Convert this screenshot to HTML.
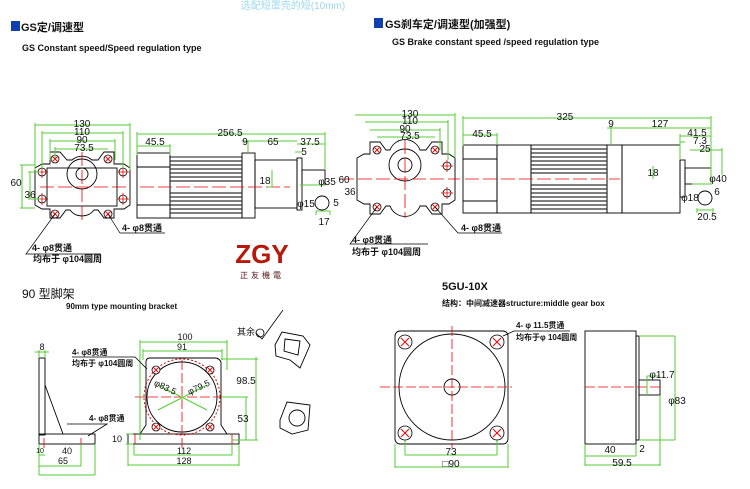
<!DOCTYPE html>
<html><head><meta charset="utf-8"><style>
html,body{margin:0;padding:0;background:#fff;width:750px;height:489px;overflow:hidden}
svg text{font-family:"Liberation Sans","Noto Sans CJK SC",sans-serif}
</style></head><body>
<svg width="750" height="489" viewBox="0 0 750 489" xmlns="http://www.w3.org/2000/svg">
<defs>
<g id="xh"><circle r="4" fill="#fff" stroke="#000" stroke-width="0.8"/><path d="M-3,-3L3,3M-3,3L3,-3" stroke="#e00" stroke-width="0.9"/></g>
<g id="ch"><circle r="4" fill="#fff" stroke="#000" stroke-width="0.8"/><path d="M-6,0H6M0,-6V6" stroke="#e00" stroke-width="0.8"/></g>
</defs>
<!-- header -->
<text x="293" y="9" font-size="10" fill="#9cd8ea" text-anchor="middle">选配短罩壳的短(10mm)</text>
<rect x="11" y="21" width="9" height="10" fill="#1040b0"/>
<text x="21" y="31" font-size="11" font-weight="bold" fill="#111">GS定/调速型</text>
<text x="22" y="51" font-size="9" font-weight="bold" fill="#111">GS Constant speed/Speed regulation type</text>
<rect x="374" y="18" width="9" height="10" fill="#1040b0"/>
<text x="385" y="28" font-size="11" font-weight="bold" fill="#111">GS刹车定/调速型(加强型)</text>
<text x="392" y="45" font-size="9" font-weight="bold" fill="#111">GS Brake constant speed /speed regulation type</text>

<g fill="none" stroke="#000" stroke-width="0.9">
<path d="M35,168 L42,164 L50,164 L50,152 L60,152 L67,160 H72 A15,15 0 0 1 92,160 H98 L104,152 L114,152 L114,164 L124,164 L130,168 V205 L124,209 H114 V218 H104 L98,210 H94 A15,15 0 0 1 70,210 H66 L60,218 H50 V209 H42 L35,205Z"/>
<rect x="47" y="168" width="70" height="38"/>
<circle cx="82" cy="174" r="15"/><circle cx="82" cy="174" r="6"/>
<rect x="137" y="153" width="33" height="65"/>
<line x1="137" y1="167" x2="170" y2="167"/><line x1="137" y1="205" x2="170" y2="205"/>
<rect x="170" y="157" width="72" height="61"/>
<rect x="242" y="153" width="13" height="65"/>
<rect x="255" y="160" width="42" height="48"/>
<rect x="297" y="158" width="5" height="52"/>
<rect x="302" y="170" width="23" height="15"/>
<circle cx="322" cy="203" r="7"/>
<path d="M357,158 L364,154 L370,154 V142 H380 L386,150 H390 A16,16 0 0 1 420,150 H426 L432,142 H442 V154 H449 L455,158 V200 L449,204 H442 V214 H432 L426,206 H420 A16,16 0 0 1 390,206 H386 L380,214 H370 V204 H364 L357,200Z"/>
<circle cx="405" cy="165" r="16"/><circle cx="405" cy="165" r="7"/>
<rect x="463" y="145" width="34" height="68"/>
<line x1="463" y1="159" x2="497" y2="159"/><line x1="463" y1="201" x2="497" y2="201"/>
<rect x="497" y="145" width="34" height="68"/>
<rect x="531" y="145" width="76" height="68"/>
<rect x="607" y="145" width="15" height="68"/>
<rect x="622" y="145" width="58" height="68"/>
<rect x="680" y="160" width="5" height="37"/>
<rect x="685" y="168" width="26" height="16"/>
<circle cx="705" cy="198" r="7"/>
</g>
<!-- fins -->
<g stroke="#333" stroke-width="1.2">
<path d="M170,161H242M170,165H242M170,169H242M170,173H242M170,177H242M170,181H242M170,193H242M170,197H242M170,201H242M170,205H242M170,209H242M170,213H242"/>
<path d="M531,149H607M531,153H607M531,157H607M531,161H607M531,165H607M531,169H607M531,173H607M531,185H607M531,189H607M531,193H607M531,197H607M531,201H607M531,205H607M531,209H607"/>
</g>
<g stroke="#e00" stroke-width="0.8" fill="none" stroke-dasharray="14,4">
<path d="M40,187H128M82,152V222M140,187H290M340,179H460M405,140V218M465,179H620"/>
</g>
<g>
<use href="#ch" x="42" y="172"/><use href="#ch" x="42" y="199"/><use href="#ch" x="123" y="172"/><use href="#ch" x="123" y="199"/>
<use href="#xh" x="55" y="159"/><use href="#xh" x="108" y="159"/><use href="#xh" x="55" y="214"/><use href="#xh" x="108" y="214"/>
<use href="#ch" x="447" y="166"/><use href="#ch" x="447" y="193"/>
<use href="#xh" x="377" y="150"/><use href="#xh" x="435" y="150"/><use href="#xh" x="377" y="207"/><use href="#xh" x="435" y="207"/>
</g>
<g stroke="#5c3" stroke-width="1" fill="none">
<path d="M35,125H130M35,123V170M130,123V170M42,133H123M42,131V168M123,131V168M50,141H115M50,139V160M115,139V160M55,149H108M55,147V158"/>
<path d="M22,165V208M20,165H35M20,208H35M30,172V199M28,172H40M28,199H40"/>
<path d="M137,134H325M137,132V155M325,132V170M137,146H170M170,144V155M242,141H297M248,141V153M297,144H325M295,152H302M272,170V187M268,187H272M300,185H325"/>
<path d="M316,211H330M316,211V215M330,211V215"/>
<path d="M355,115H455M455,113V158M365,122H448M448,120V160M370,130H440M440,128V150M377,137H435"/>
<path d="M463,118H711M463,116V146M711,116V184M463,135H497M497,133V145M607,128H711M611,126V145M680,136H711M680,134V160M680,142H685M690,150H722M722,148V175M653,166V179M692,184H711"/>
<path d="M697,210H713M697,208V213M713,208V213"/>
</g>
<g font-size="10" fill="#111" text-anchor="middle">
<text x="82" y="127">130</text><text x="82" y="135">110</text><text x="82" y="143">90</text><text x="84" y="151">73.5</text>
<text x="16" y="186">60</text><text x="30" y="198">36</text>
<text x="230" y="136">256.5</text><text x="155" y="145">45.5</text><text x="245" y="145">9</text><text x="273" y="145">65</text><text x="310" y="145">37.5</text><text x="304" y="155">5</text>
<text x="265" y="184">18</text><text x="327" y="185">φ35</text><text x="306" y="207">φ15</text><text x="336" y="206">5</text><text x="324" y="225">17</text>
<text x="410" y="117">130</text><text x="410" y="124">110</text><text x="405" y="132">90</text><text x="410" y="139">73.5</text>
<text x="344" y="183">60</text><text x="350" y="195">36</text>
<text x="565" y="120">325</text><text x="482" y="137">45.5</text><text x="611" y="127">9</text><text x="660" y="127">127</text><text x="697" y="136">41.5</text><text x="700" y="144">7.3</text><text x="705" y="152">25</text>
<text x="653" y="176">18</text><text x="718" y="182">φ40</text><text x="690" y="201">φ18</text><text x="717" y="195">6</text><text x="707" y="220">20.5</text>
</g>
<g stroke="#000" stroke-width="0.7" fill="none">
<path d="M108,214L120,233H165M55,214L26,254H101"/>
<path d="M435,207L458,233H502M377,207L350,244H428"/>
</g>
<g font-size="9" fill="#111" font-weight="bold">
<text x="122" y="231">4- φ8贯通</text><text x="32" y="251">4- φ8贯通</text><text x="33" y="262">均布于 φ104圆周</text>
<text x="461" y="231">4- φ8贯通</text><text x="352" y="243">4- φ8贯通</text><text x="352" y="255">均布于 φ104圆周</text>
</g>
<text x="262" y="263" font-size="26" font-weight="bold" fill="#b8180c" text-anchor="middle">ZGY</text>
<text x="262" y="278" font-size="8" fill="#511" text-anchor="middle" letter-spacing="3">正友機電</text>

<text x="22" y="298" font-size="12" fill="#111">90 型脚架</text>
<text x="66" y="309" font-size="8" font-weight="bold" fill="#111">90mm type mounting bracket</text>
<text x="237" y="335" font-size="9" fill="#111">其余</text>
<path d="M256,333 L262,339 L283,310" stroke="#000" fill="none" stroke-width="0.8"/><circle cx="260" cy="333" r="4" fill="none" stroke="#000" stroke-width="0.8"/>
<g fill="none" stroke="#000" stroke-width="0.9">
<rect x="39" y="358" width="6" height="77"/><path d="M45,385L63,434"/>
<rect x="39" y="434" width="56" height="10"/>
<path d="M140,434L146,425V362Q146,358 150,358H215Q219,358 221,362V425L227,434"/>
<rect x="128" y="434" width="111" height="10"/>
<circle cx="182" cy="397" r="35"/>
<path d="M275,345L282,332L303,336L310,345L300,368L290,360L276,356Z"/><path d="M285,339L300,341L298,355L284,351Z"/>
<path d="M280,420L287,402L310,405L308,430L292,434L280,428Z"/><circle cx="297" cy="418" r="8"/>
<rect x="585" y="331" width="51" height="113"/><rect x="636" y="336" width="3" height="104"/>
<rect x="639" y="380" width="21" height="15"/>
<rect x="395" y="331" width="113" height="113" rx="5"/>
<circle cx="452" cy="387" r="53"/><circle cx="452" cy="387" r="8"/>
</g>
<circle cx="182" cy="397" r="38" fill="none" stroke="#e00" stroke-dasharray="2,2"/>
<g stroke="#e00" stroke-width="0.8" stroke-dasharray="10,3" fill="none">
<path d="M135,397H232M182,360V448M44,438V448M81,438V448M135,434V444M232,434V444M380,387H512M452,326V448M585,387H660"/>
</g>
<g stroke="#5c3" stroke-width="1" fill="none">
<path d="M158,385L207,410M158,410L207,385"/>
<path d="M35,352H49M39,350V358M45,350V358M39,444V475M81,444V466M95,444V475M39,455H45M39,466H81M39,475H95"/>
<path d="M140,342H227M140,340V440M227,340V370M143,351H222M143,349V360M222,349V360M221,359H258M256,357V440M221,397H248M246,397V440M232,440H258"/>
<path d="M126,434H133M126,444H133M134,444V455M232,444V455M134,455H232M128,444V466M239,444V466M128,465H239"/>
<path d="M405,440V455M497,440V455M405,455H497M395,444V468M508,444V468M395,467H508"/>
<path d="M639,336H675M639,440H675M675,336V440M647,376V395M647,376H660M585,444V466M636,444V456M660,395V466M585,456H636M585,465H660"/>
</g>
<g>
<use href="#xh" x="156" y="370"/><use href="#xh" x="210" y="370"/><use href="#xh" x="156" y="427"/><use href="#xh" x="210" y="427"/>
</g>
<g fill="#fff" stroke="#000" stroke-width="0.8">
<circle cx="405" cy="342" r="7"/><circle cx="497" cy="342" r="7"/><circle cx="405" cy="433" r="7"/><circle cx="497" cy="433" r="7"/>
</g>
<g stroke="#e00" stroke-width="1"><path d="M401,338L409,346M401,346L409,338M493,338L501,346M493,346L501,338M401,429L409,437M401,437L409,429M493,429L501,437M493,437L501,429"/></g>
<g stroke="#000" stroke-width="0.8" fill="none"><path d="M72,357H135L147,369"/><path d="M503,336L514,331H570"/><path d="M67,424H107L88,436"/></g>
<g font-size="9" fill="#111" text-anchor="middle">
<text x="42" y="350">8</text><text x="40" y="453" font-size="7">10</text><text x="67" y="454">40</text><text x="63" y="464">65</text>
<text x="185" y="340">100</text><text x="182" y="350">91</text><text x="246" y="384" font-size="10">98.5</text><text x="243" y="422" font-size="10">53</text><text x="117" y="442">10</text>
<text x="184" y="454">112</text><text x="184" y="464">128</text>
<text x="164" y="390" transform="rotate(25 164 390)">φ83.5</text><text x="200" y="390" transform="rotate(-25 200 390)">φ79.5</text>
<text x="451" y="455" font-size="10">73</text><text x="451" y="467" font-size="10">□90</text>
<text x="610" y="453" font-size="10">40</text><text x="642" y="452" font-size="10">2</text><text x="622" y="466" font-size="10">59.5</text>
<text x="662" y="378" font-size="10">φ11.7</text><text x="677" y="404" font-size="10">φ83</text>
</g>
<g font-size="8" fill="#111" font-weight="bold">
<text x="72" y="355">4- φ8贯通</text><text x="72" y="366">均布于 φ104圆周</text><text x="89" y="421">4- φ8贯通</text>
<text x="516" y="328">4- φ 11.5贯通</text><text x="516" y="340">均布于φ 104圆周</text>
</g>
<text x="442" y="290" font-size="11" font-weight="bold" fill="#111">5GU-10X</text>
<text x="442" y="306" font-size="8" font-weight="bold" fill="#111">结构：中间减速器structure:middle gear box</text>
</svg>
</body></html>
